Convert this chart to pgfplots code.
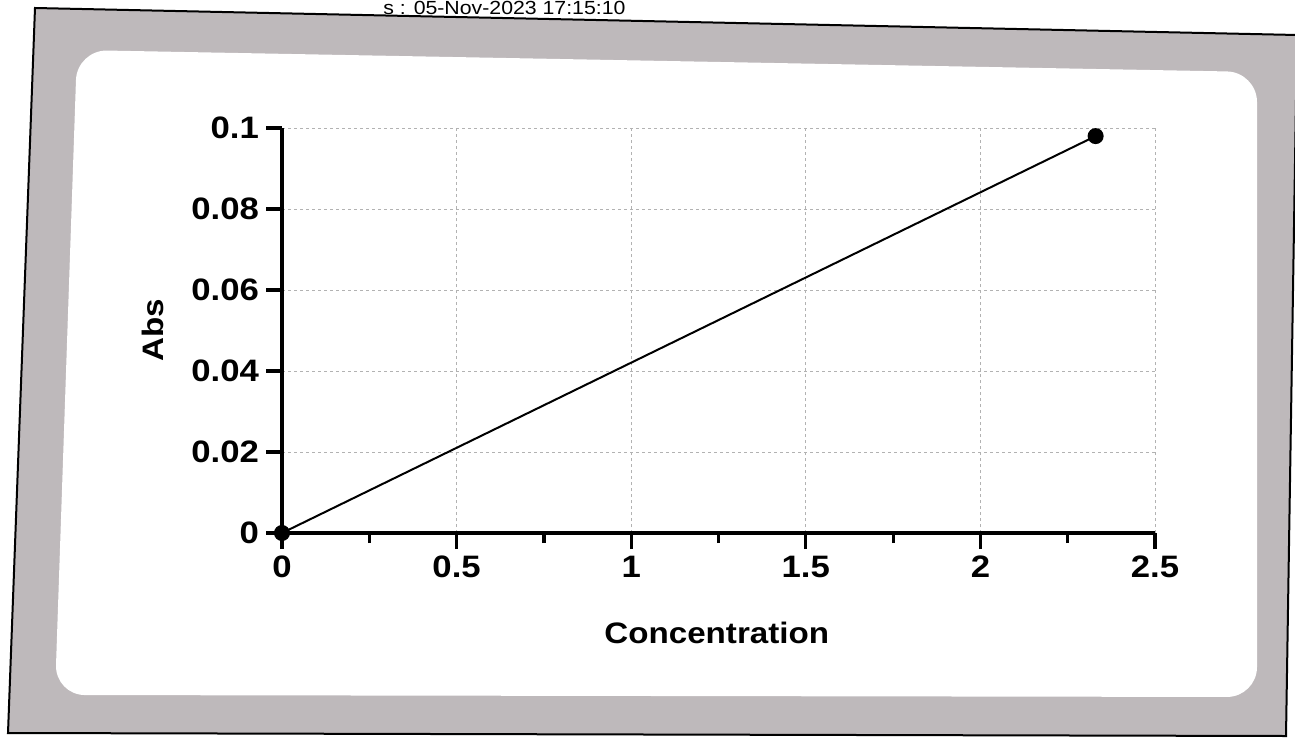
\documentclass[border=0pt]{standalone}
\usepackage{fontspec}
\setmainfont{Liberation Sans}[FakeStretch=1.12]
\usepackage{pgfplots}
\pgfplotsset{compat=1.18}
\definecolor{framegray}{RGB}{190,185,187}
\begin{document}
\begin{tikzpicture}
\path[use as bounding box] (0,0) rectangle (647.5pt,-369pt);
\begin{scope}[x=0.5pt,y=-0.5pt]
\clip (0,0) rectangle (1295,738);
\fill[framegray, draw=black, line width=1pt] (35,8) -- (1297,35) -- (1286,736) -- (8,733) -- cycle;
\fill[white, rounded corners=15pt] (77,50) -- (1257,72) -- (1257,697) -- (55,695) -- cycle;
\node[anchor=base west, font=\fontsize{9.5}{11}\selectfont, inner sep=0pt] at (383,15) {s : 05-Nov-2023 17:15:10};
\end{scope}
\begin{axis}[
  at={(141pt,-266.5pt)}, anchor=south west,
  scale only axis, width=436.5pt, height=202.5pt,
  xmin=0, xmax=2.5, ymin=0, ymax=0.1,
  xtick={0,0.5,1,1.5,2,2.5}, xticklabels={0,0.5,1,1.5,2,2.5},
  ytick={0,0.02,0.04,0.06,0.08,0.1}, yticklabels={0,0.02,0.04,0.06,0.08,0.1},
  minor xtick={0.25,0.75,1.25,1.75,2.25},
  axis x line*=bottom, axis y line*=left,
  axis line style={line width=2pt, black},
  tick align=outside, major tick length=8pt, minor tick length=5pt,
  every tick/.style={black, line width=1.6pt},
  grid=major, major grid style={gray!60, dash pattern=on 1.5pt off 1.5pt, line width=0.5pt},
  ticklabel style={font=\bfseries\fontsize{15.5}{17}\selectfont},
  label style={font=\bfseries\fontsize{14.8}{17}\selectfont},
  xlabel={Concentration}, ylabel={Abs},
  xlabel style={at={(axis description cs:0.498,-0.247)}, anchor=center},
  ylabel style={at={(axis description cs:-0.148,0.5)}, anchor=center},
  clip=false,
]
\addplot[black, line width=1pt, mark=*, mark size=3.5pt] coordinates {(0,0) (2.33,0.098)};
\end{axis}
\end{tikzpicture}
\end{document}
